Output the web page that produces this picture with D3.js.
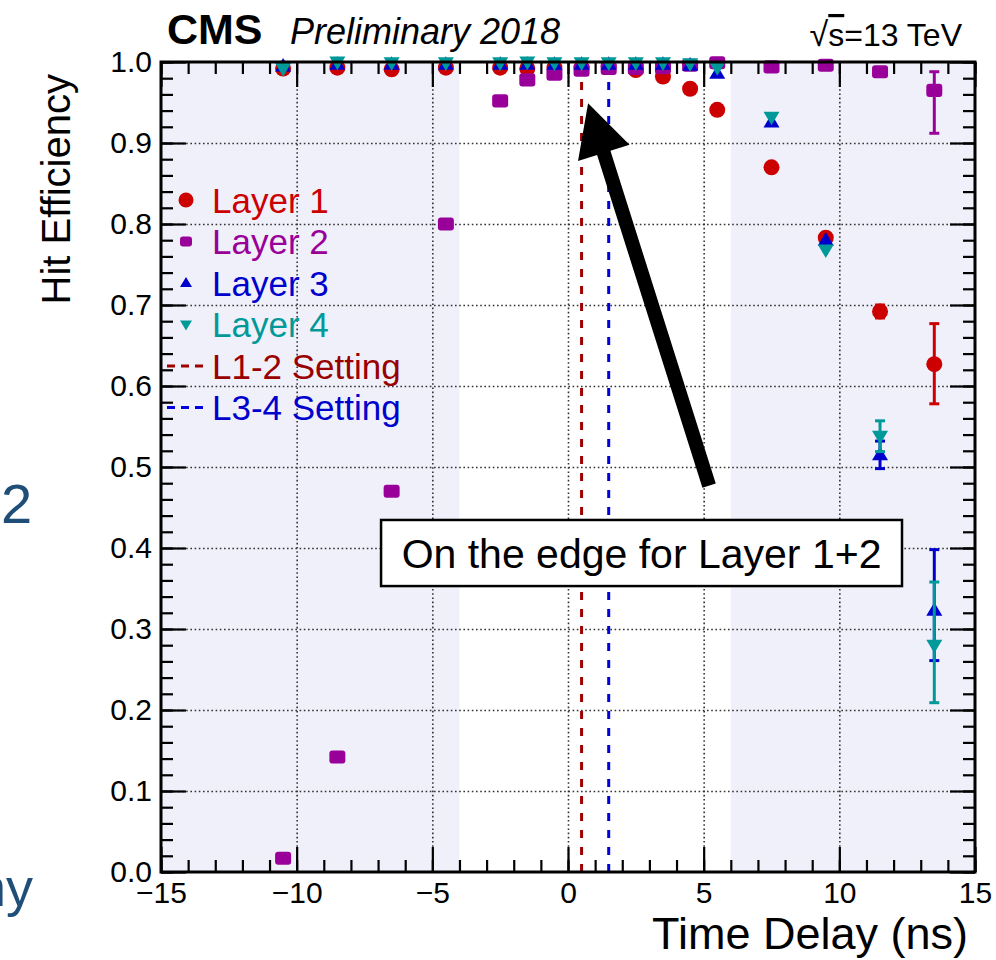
<!DOCTYPE html>
<html>
<head>
<meta charset="utf-8">
<script src="https://cdn.jsdelivr.net/npm/d3@7"></script>
<style>
  html, body { margin: 0; padding: 0; background: #fff; }
  svg { display: block; }
  text { font-family: 'Liberation Sans', Arial, Helvetica, sans-serif; }
</style>
</head>
<body>
<svg id="chart" width="996" height="960"></svg>
<script>
// Time-delay scan points (ns)
const delays = [-10.5, -8.5, -6.5, -4.5, -2.5, -1.5, -0.5, 0.5, 1.5, 2.5, 3.5, 4.5, 5.5, 7.5, 9.5, 11.5, 13.5];

// Hit efficiency per layer
const layer1 = [0.992, 0.993, 0.991, 0.993, 0.993, 0.992, 0.993, 0.993, 0.994, 0.990, 0.982, 0.967, 0.941, 0.870, 0.783, 0.692, 0.627];
const layer2 = [0.017, 0.142, 0.470, 0.800, 0.952, 0.978, 0.985, 0.990, 0.992, 0.992, 0.993, 0.996, 0.999, 0.994, 0.996, 0.988, 0.965];
const layer3 = [0.995, 0.997, 0.997, 0.997, 0.997, 0.997, 0.997, 0.997, 0.997, 0.997, 0.997, 0.996, 0.986, 0.926, 0.780, 0.515, 0.323];
const layer4 = [0.992, 1.000, 0.999, 0.999, 0.999, 1.000, 0.999, 0.999, 0.999, 0.999, 0.999, 0.998, 0.993, 0.932, 0.768, 0.538, 0.280];

// Asymmetric uncertainties (upper / lower)
const layer1ErrUp = [0, 0, 0, 0, 0, 0, 0, 0, 0, 0, 0, 0, 0, 0, 0, 0.008, 0.050];
const layer1ErrDn = [0, 0, 0, 0, 0, 0, 0, 0, 0, 0, 0, 0, 0, 0, 0, 0.008, 0.049];
const layer2ErrUp = [0, 0, 0, 0, 0, 0, 0, 0, 0, 0, 0, 0, 0, 0, 0, 0, 0.023];
const layer2ErrDn = [0, 0, 0, 0, 0, 0, 0, 0, 0, 0, 0, 0, 0, 0, 0, 0, 0.053];
const layer3ErrUp = [0, 0, 0, 0, 0, 0, 0, 0, 0, 0, 0, 0, 0, 0, 0, 0.017, 0.075];
const layer3ErrDn = [0, 0, 0, 0, 0, 0, 0, 0, 0, 0, 0, 0, 0, 0, 0, 0.017, 0.062];
const layer4ErrUp = [0, 0, 0, 0, 0, 0, 0, 0, 0, 0, 0, 0, 0, 0, 0, 0.019, 0.078];
const layer4ErrDn = [0, 0, 0, 0, 0, 0, 0, 0, 0, 0, 0, 0, 0, 0, 0, 0.019, 0.071];

// Timing settings
const l12Setting = 0.5;
const l34Setting = 1.5;

// Shaded delay ranges
const shadedRanges = [[-15, -4], [6, 15]];

// Axis ticks
const xMajorTicks = [-15, -10, -5, 0, 5, 10, 15];
const yMajorTicks = [0.0, 0.1, 0.2, 0.3, 0.4, 0.5, 0.6, 0.7, 0.8, 0.9, 1.0];
const xGridTicks = [-10, -5, 0, 5, 10];
const yGridTicks = [0.1, 0.2, 0.3, 0.4, 0.5, 0.6, 0.7, 0.8, 0.9];

const legendLabels = ["Layer 1", "Layer 2", "Layer 3", "Layer 4", "L1-2 Setting", "L3-4 Setting"];

const svg = d3.select("#chart");
const x = d3.scaleLinear().domain([-15, 15]).range([161, 975]);
const y = d3.scaleLinear().domain([0, 1]).range([872, 62]);

const colors = { l1: "#cc0000", l2: "#990099", l3: "#0000cc", l4: "#009999", set12: "#a00000", set34: "#0000dd" };

// shaded bands
svg.append("g").selectAll("rect").data(shadedRanges).join("rect")
  .attr("x", d => x(d[0])).attr("width", d => x(d[1]) - x(d[0]))
  .attr("y", y(1)).attr("height", y(0) - y(1))
  .attr("fill", "#f0f0fb");

// dotted grid
const gridStyle = g => g.selectAll("line").attr("stroke", "#333").attr("stroke-width", 1.6).attr("stroke-dasharray", "1.6,2.6");
const gx = svg.append("g").attr("transform", `translate(0,${y(0)})`)
  .call(d3.axisBottom(x).tickValues(xGridTicks).tickSize(-(y(0) - y(1))).tickFormat(""));
gx.select(".domain").remove(); gridStyle(gx);
const gy = svg.append("g").attr("transform", `translate(${x(-15)},0)`)
  .call(d3.axisLeft(y).tickValues(yGridTicks).tickSize(-(x(15) - x(-15))).tickFormat(""));
gy.select(".domain").remove(); gridStyle(gy);

// ticks (inside the frame on all four sides)
const minorX = d3.range(-15, 15.001, 1);
const minorY = d3.range(0, 1.0001, 0.02).map(v => +v.toFixed(2));
function tickAxis(axis, tr) {
  const g = svg.append("g").attr("transform", tr).call(axis);
  g.select(".domain").remove();
  g.selectAll("line").attr("stroke", "#000").attr("stroke-width", 2.2);
  return g;
}
tickAxis(d3.axisBottom(x).tickValues(minorX).tickSize(-12).tickFormat(""), `translate(0,${y(0)})`);
tickAxis(d3.axisBottom(x).tickValues(xMajorTicks).tickSize(-25).tickFormat(""), `translate(0,${y(0)})`);
tickAxis(d3.axisTop(x).tickValues(minorX).tickSize(-12).tickFormat(""), `translate(0,${y(1)})`);
tickAxis(d3.axisTop(x).tickValues(xMajorTicks).tickSize(-25).tickFormat(""), `translate(0,${y(1)})`);
tickAxis(d3.axisLeft(y).tickValues(minorY).tickSize(-12).tickFormat(""), `translate(${x(-15)},0)`);
tickAxis(d3.axisLeft(y).tickValues(yMajorTicks).tickSize(-25).tickFormat(""), `translate(${x(-15)},0)`);
tickAxis(d3.axisRight(y).tickValues(minorY).tickSize(-12).tickFormat(""), `translate(${x(15)},0)`);
tickAxis(d3.axisRight(y).tickValues(yMajorTicks).tickSize(-25).tickFormat(""), `translate(${x(15)},0)`);

// tick labels
const fmtX = d => d < 0 ? "\u2212" + Math.abs(d) : String(d);
const xl = svg.append("g").attr("transform", `translate(0,${y(0)})`)
  .call(d3.axisBottom(x).tickValues(xMajorTicks).tickSize(0).tickPadding(0).tickFormat(fmtX));
xl.select(".domain").remove();
xl.selectAll("text").attr("font-size", 30).attr("fill", "#000")
  .attr("font-family", "'Liberation Sans', Arial, sans-serif").attr("dy", null).attr("y", 31);
const yl = svg.append("g").attr("transform", `translate(${x(-15)},0)`)
  .call(d3.axisLeft(y).tickValues(yMajorTicks).tickSize(0).tickPadding(9).tickFormat(d3.format(".1f")));
yl.select(".domain").remove();
yl.selectAll("text").attr("font-size", 30).attr("fill", "#000")
  .attr("font-family", "'Liberation Sans', Arial, sans-serif");

// setting lines
const settings = [{ v: l12Setting, c: colors.set12 }, { v: l34Setting, c: colors.set34 }];
svg.append("g").selectAll("line").data(settings).join("line")
  .attr("x1", d => x(d.v)).attr("x2", d => x(d.v))
  .attr("y1", y(0)).attr("y2", y(0.996))
  .attr("stroke", d => d.c).attr("stroke-width", 3).attr("stroke-dasharray", "8,9");

// markers
const series = [
  { vals: layer1, up: layer1ErrUp, dn: layer1ErrDn, color: colors.l1, shape: "circle" },
  { vals: layer2, up: layer2ErrUp, dn: layer2ErrDn, color: colors.l2, shape: "square" },
  { vals: layer3, up: layer3ErrUp, dn: layer3ErrDn, color: colors.l3, shape: "tri-up" },
  { vals: layer4, up: layer4ErrUp, dn: layer4ErrDn, color: colors.l4, shape: "tri-down" }
];

function markerPath(shape, s) {
  if (shape === "circle") return d3.symbol(d3.symbolCircle, Math.PI * (s / 2) ** 2)();
  if (shape === "square") {
    const w = s, h = s * 0.82, r = 3;
    return `M${-w/2 + r},${-h/2}H${w/2 - r}Q${w/2},${-h/2} ${w/2},${-h/2 + r}V${h/2 - r}Q${w/2},${h/2} ${w/2 - r},${h/2}H${-w/2 + r}Q${-w/2},${h/2} ${-w/2},${h/2 - r}V${-h/2 + r}Q${-w/2},${-h/2} ${-w/2 + r},${-h/2}Z`;
  }
  const hw = s / 2, h = s * 0.85;
  if (shape === "tri-up") return `M0,${-h * 0.6}L${hw},${h * 0.4}L${-hw},${h * 0.4}Z`;
  return `M0,${h * 0.6}L${hw},${-h * 0.4}L${-hw},${-h * 0.4}Z`;
}

series.forEach(s => {
  const pts = delays.map((d, i) => ({ d, v: s.vals[i], up: s.up[i], dn: s.dn[i] }));
  const g = svg.append("g");
  const eb = pts.filter(p => p.up > 0 || p.dn > 0);
  g.selectAll("line.err").data(eb).join("line").attr("class", "err")
    .attr("x1", p => x(p.d)).attr("x2", p => x(p.d))
    .attr("y1", p => y(p.v + p.up)).attr("y2", p => y(p.v - p.dn))
    .attr("stroke", s.color).attr("stroke-width", 3);
  ["up", "dn"].forEach(k => {
    g.selectAll("line.cap" + k).data(eb).join("line").attr("class", "cap" + k)
      .attr("x1", p => x(p.d) - 5).attr("x2", p => x(p.d) + 5)
      .attr("y1", p => y(k === "up" ? p.v + p.up : p.v - p.dn))
      .attr("y2", p => y(k === "up" ? p.v + p.up : p.v - p.dn))
      .attr("stroke", s.color).attr("stroke-width", 3);
  });
  g.selectAll("path").data(pts).join("path")
    .attr("transform", p => `translate(${x(p.d)},${y(p.v)})`)
    .attr("d", markerPath(s.shape, 16))
    .attr("fill", s.color);
});

// frame
svg.append("rect").attr("x", x(-15)).attr("y", y(1))
  .attr("width", x(15) - x(-15)).attr("height", y(0) - y(1))
  .attr("fill", "none").attr("stroke", "#000").attr("stroke-width", 3);

// legend
const legend = svg.append("g");
const legY0 = 200, legDy = 41.5, legMX = 186, legTX = 212;
const legColors = [colors.l1, colors.l2, colors.l3, colors.l4, colors.set12, colors.set34];
const legText = ["#cc0000", "#990099", "#0000cc", "#009999", "#990000", "#0000cc"];
legendLabels.forEach((lab, i) => {
  const cy = legY0 + i * legDy;
  if (i < 4) {
    legend.append("path").attr("transform", `translate(${legMX},${cy})`)
      .attr("d", markerPath(series[i].shape, i === 0 ? 15 : 12)).attr("fill", legColors[i]);
  } else {
    legend.append("line").attr("x1", 167).attr("x2", 205).attr("y1", cy).attr("y2", cy)
      .attr("stroke", legColors[i]).attr("stroke-width", 3).attr("stroke-dasharray", "8,6");
  }
  legend.append("text").attr("x", legTX).attr("y", cy).attr("dy", "0.36em")
    .attr("font-size", 35).attr("fill", legText[i]).text(lab);
});

// annotation arrow
const tail = [x(5.2), y(0.477)], tip = [x(0.74), y(0.949)];
const dxA = tip[0] - tail[0], dyA = tip[1] - tail[1], len = Math.hypot(dxA, dyA);
const ux = dxA / len, uy = dyA / len, px = -uy, py = ux;
const headLen = 52, headHalf = 27, shaftHalf = 7;
const bx = tip[0] - ux * headLen, by = tip[1] - uy * headLen;
const arrowPts = [
  [tail[0] + px * shaftHalf, tail[1] + py * shaftHalf],
  [bx + px * shaftHalf, by + py * shaftHalf],
  [bx + px * headHalf, by + py * headHalf],
  tip,
  [bx - px * headHalf, by - py * headHalf],
  [bx - px * shaftHalf, by - py * shaftHalf],
  [tail[0] - px * shaftHalf, tail[1] - py * shaftHalf]
];
svg.append("path").attr("d", d3.line()(arrowPts) + "Z").attr("fill", "#000");

// annotation box
const box = { x0: -6.89, x1: 12.31, y0: 0.353, y1: 0.4346 };
svg.append("rect").attr("x", x(box.x0)).attr("y", y(box.y1))
  .attr("width", x(box.x1) - x(box.x0)).attr("height", y(box.y0) - y(box.y1))
  .attr("fill", "#fff").attr("stroke", "#000").attr("stroke-width", 2.5);
svg.append("text").attr("x", (x(box.x0) + x(box.x1)) / 2).attr("y", (y(box.y0) + y(box.y1)) / 2)
  .attr("dy", "0.36em").attr("text-anchor", "middle").attr("font-size", 41).attr("fill", "#000")
  .text("On the edge for Layer 1+2");

// header
svg.append("text").attr("x", 167).attr("y", 44).attr("font-size", 43).attr("font-weight", "bold").text("CMS");
svg.append("text").attr("x", 290).attr("y", 44).attr("font-size", 36).attr("font-style", "italic").text("Preliminary 2018");
const en = svg.append("text").attr("x", 962).attr("y", 46).attr("text-anchor", "end").attr("font-size", 32);
en.append("tspan").attr("font-size", 34).text("\u221A");
en.append("tspan").attr("text-decoration", "overline").text("s");
en.append("tspan").text("=13 TeV");

// axis titles
svg.append("text").attr("transform", "translate(70,74) rotate(-90)").attr("text-anchor", "end")
  .attr("font-size", 40).text("Hit Efficiency");
svg.append("text").attr("x", 968).attr("y", 949).attr("text-anchor", "end")
  .attr("font-size", 45).text("Time Delay (ns)");

// neighbouring slide text along the left edge
svg.append("text").attr("x", 1).attr("y", 523).attr("font-size", 56)
  .attr("font-family", "'Open Sans', sans-serif").attr("fill", "#1f4e79").text("2");
svg.append("text").attr("x", 33).attr("y", 906).attr("text-anchor", "end").attr("font-size", 54)
  .attr("font-family", "'Open Sans', sans-serif").attr("fill", "#1f4e79").text("ny");
</script>
</body>
</html>
